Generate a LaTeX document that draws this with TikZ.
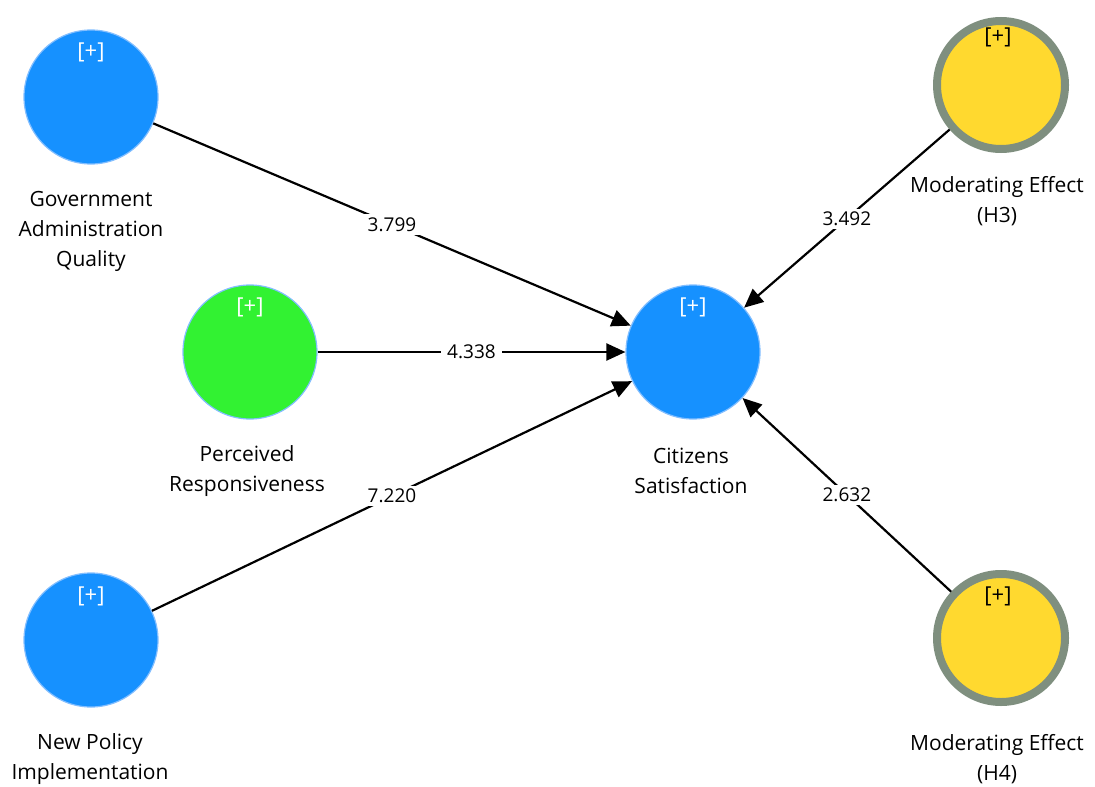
\documentclass[tikz,border=0pt]{standalone}
\usepackage{fontspec}
\setmainfont{Open Sans}
\usetikzlibrary{arrows.meta}
\definecolor{lvblue}{RGB}{22,145,255}
\definecolor{lvborder}{RGB}{130,190,255}
\definecolor{lvgreen}{RGB}{50,242,50}
\definecolor{modyellow}{RGB}{255,217,47}
\definecolor{modring}{RGB}{127,143,127}
\tikzset{
  lv/.style={circle, minimum size=134pt, inner sep=0pt, fill=lvblue, draw=lvborder, line width=1.2pt},
  lvg/.style={lv, fill=lvgreen},
  mod/.style={circle, minimum size=128pt, inner sep=0pt, fill=modyellow, draw=modring, line width=8pt},
  lbl/.style={align=center, font=\fontsize{21pt}{30pt}\selectfont, inner sep=0pt},
  plus/.style={font=\fontsize{22pt}{24pt}\selectfont, inner sep=0pt},
  path/.style={line width=2.2pt, -{Triangle[length=19pt,width=17pt]}},
  coef/.style={fill=white, font=\fontsize{19pt}{22pt}\selectfont, inner xsep=6pt, inner ysep=3pt}
}
\begin{document}
\begin{tikzpicture}[x=1pt,y=-1pt]
\useasboundingbox (0,0) rectangle (1095,787);
% latent variables
\node[lv]  (gaq) at (91,97) {};
\node[lvg] (pr)  at (250,352) {};
\node[lv]  (npi) at (91,640) {};
\node[lv]  (cs)  at (693,352) {};
\node[mod] (h3)  at (1001,85) {};
\node[mod] (h4)  at (1001,638) {};
% [+] markers
\node[plus, text=white] (gaqp) at (91,52) {[+]};
\node[plus, text=white] (prp)  at (250,307) {[+]};
\node[plus, text=white] (npip) at (91,596) {[+]};
\node[plus, text=white] (csp)  at (693,307) {[+]};
\node[plus, text=black] (h3p)  at (998,37) {[+]};
\node[plus, text=black] (h4p)  at (998,596) {[+]};
% labels
\node[lbl] (gaql) at (91,231) {Government\\Administration\\Quality};
\node[lbl] (prl)  at (247,471) {Perceived\\Responsiveness};
\node[lbl] (npil) at (90,759) {New Policy\\Implementation};
\node[lbl] (csl)  at (691,471) {Citizens\\Satisfaction};
\node[lbl] (h3l)  at (997,201) {Moderating Effect\\(H3)};
\node[lbl] (h4l)  at (997,759) {Moderating Effect\\(H4)};
% paths
\draw[path] (gaq) -- node[coef, pos=0.5] (c1) {3.799} (cs);
\draw[path] (pr) -- node[coef, pos=0.5] (c2) {4.338} (cs);
\draw[path] (npi) -- node[coef, pos=0.5] (c3) {7.220} (cs);
\draw[path] (h3) -- node[coef, pos=0.5] (c4) {3.492} (cs);
\draw[path] (h4) -- node[coef, pos=0.5] (c5) {2.632} (cs);
\end{tikzpicture}
\end{document}
